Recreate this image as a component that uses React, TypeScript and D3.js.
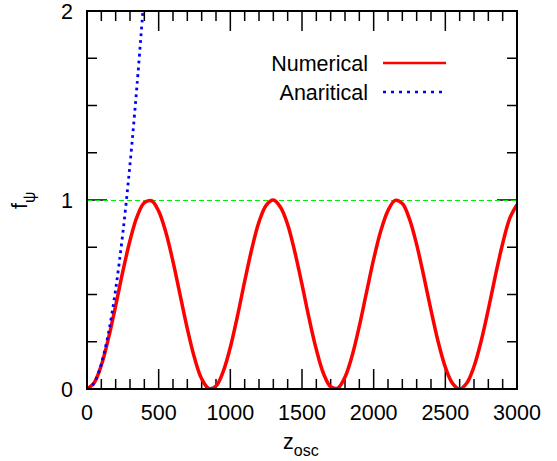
import React from "react";
import * as d3 from "d3";

const W = 557;
const H = 461;
const M = { left: 87, right: 40, top: 11, bottom: 72 };

// Numerical f_psi values, z every 50
const numZ = [
  0, 50, 100, 150, 200, 250, 300, 350, 400, 450, 500, 550, 600, 650, 700, 750, 800, 850, 900, 950,
  1000, 1050, 1100, 1150, 1200, 1250, 1300, 1350, 1400, 1450, 1500, 1550, 1600, 1650, 1700, 1750,
  1800, 1850, 1900, 1950, 2000, 2050, 2100, 2150, 2200, 2250, 2300, 2350, 2400, 2450, 2500, 2550,
  2600, 2650, 2700, 2750, 2800, 2850, 2900, 2950, 3000,
];
const numF = [
  0, 0.033, 0.126, 0.269, 0.441, 0.622, 0.786, 0.913, 0.986, 0.996, 0.941, 0.829, 0.674, 0.497,
  0.319, 0.165, 0.054, 0.003, 0.016, 0.092, 0.221, 0.387, 0.569, 0.742, 0.884, 0.972, 1.0, 0.962,
  0.87, 0.725, 0.553, 0.372, 0.209, 0.082, 0.012, 0.005, 0.063, 0.177, 0.333, 0.511, 0.687, 0.837,
  0.944, 0.998, 0.981, 0.899, 0.764, 0.596, 0.417, 0.25, 0.116, 0.03, 0.0, 0.032, 0.119, 0.254,
  0.421, 0.602, 0.77, 0.904, 0.975,
];

// Analytical curve values
const anaZ = [0, 25, 50, 75, 100, 150, 200, 250, 300, 350, 390];
const anaF = [0, 0.008, 0.033, 0.074, 0.132, 0.297, 0.528, 0.825, 1.188, 1.617, 2.0];

const xTicks = [0, 500, 1000, 1500, 2000, 2500, 3000];
const yTicks = [0, 1, 2];
const xMinor = d3.range(0, 3001, 100);
const yMinor = d3.range(0, 2.001, 0.25);

const legendItems = ["Numerical", "Anaritical"];

export default function App() {
  const x = d3.scaleLinear().domain([0, 3000]).range([M.left, W - M.right]);
  const y = d3.scaleLinear().domain([0, 2]).range([H - M.bottom, M.top]);
  const [x0, x1] = x.range();
  const [y0, y1] = y.range();

  const line = d3
    .line<[number, number]>()
    .x((d) => x(d[0]))
    .y((d) => y(d[1]))
    .curve(d3.curveCatmullRom);

  const numData = numZ.map((z, i) => [z, numF[i]] as [number, number]);
  const anaData = anaZ.map((z, i) => [z, anaF[i]] as [number, number]);

  const font = "Liberation Sans, Arial, sans-serif";
  const fs = 21.5;

  return (
    <svg
      width={W}
      height={H}
      style={{ position: "absolute", left: 0, top: 0, background: "#fff" }}
      fontFamily={font}
    >
      <defs>
        <clipPath id="plot">
          <rect x={x0} y={y1} width={x1 - x0} height={y0 - y1} />
        </clipPath>
      </defs>

      {/* ticks */}
      <g stroke="#000" strokeWidth={1.5}>
        {xMinor.map((v) => {
          const len = v % 500 === 0 ? 20 : 10;
          return (
            <g key={"xm" + v}>
              <line x1={x(v)} x2={x(v)} y1={y0} y2={y0 - len} />
              <line x1={x(v)} x2={x(v)} y1={y1} y2={y1 + len} />
            </g>
          );
        })}
        {yMinor.map((v) => {
          const len = Math.abs(v - Math.round(v)) < 1e-6 ? 20 : 10;
          return (
            <g key={"ym" + v}>
              <line x1={x0} x2={x0 + len} y1={y(v)} y2={y(v)} />
              <line x1={x1} x2={x1 - len} y1={y(v)} y2={y(v)} />
            </g>
          );
        })}
      </g>

      {/* reference line at 1 */}
      <line
        x1={x0}
        x2={x1}
        y1={y(1) + 0.5}
        y2={y(1) + 0.5}
        stroke="#00ee00"
        strokeWidth={1}
        strokeDasharray="5 3"
      />

      <g clipPath="url(#plot)">
        <path d={line(numData) || ""} fill="none" stroke="#ff0000" strokeWidth={3.5} />
        <path d={line(anaData) || ""} fill="none" stroke="#0000ff" strokeWidth={2.8} strokeDasharray="2.8 4" />
      </g>

      {/* frame */}
      <rect x={x0} y={y1} width={x1 - x0} height={y0 - y1} fill="none" stroke="#000" strokeWidth={2} />

      {/* tick labels */}
      {xTicks.map((v) => (
        <text key={"xl" + v} x={x(v)} y={420} textAnchor="middle" fontSize={fs} fill="#000">
          {v}
        </text>
      ))}
      {yTicks.map((v) => (
        <text key={"yl" + v} x={73} y={y(v) + 7.5} textAnchor="end" fontSize={fs} fill="#000">
          {v}
        </text>
      ))}

      {/* axis labels */}
      <text x={283} y={449} fontSize={fs} fill="#000">
        z
        <tspan fontSize={16} dy={7}>
          osc
        </tspan>
      </text>
      <text transform="translate(27,209) rotate(-90)" fontSize={fs} fill="#000">
        f
        <tspan fontSize={16} dy={8}>
          ψ
        </tspan>
      </text>

      {/* legend */}
      {legendItems.map((name, i) => {
        const ly = 63 + i * 29;
        return (
          <g key={name}>
            <text x={368} y={ly + 7.5} textAnchor="end" fontSize={fs} fill="#000">
              {name}
            </text>
            {i === 0 ? (
              <line x1={383} x2={446} y1={ly} y2={ly} stroke="#ff0000" strokeWidth={2.5} />
            ) : (
              <line
                x1={383}
                x2={446}
                y1={ly}
                y2={ly}
                stroke="#0000ff"
                strokeWidth={2.6}
                strokeDasharray="3 5"
              />
            )}
          </g>
        );
      })}
    </svg>
  );
}
